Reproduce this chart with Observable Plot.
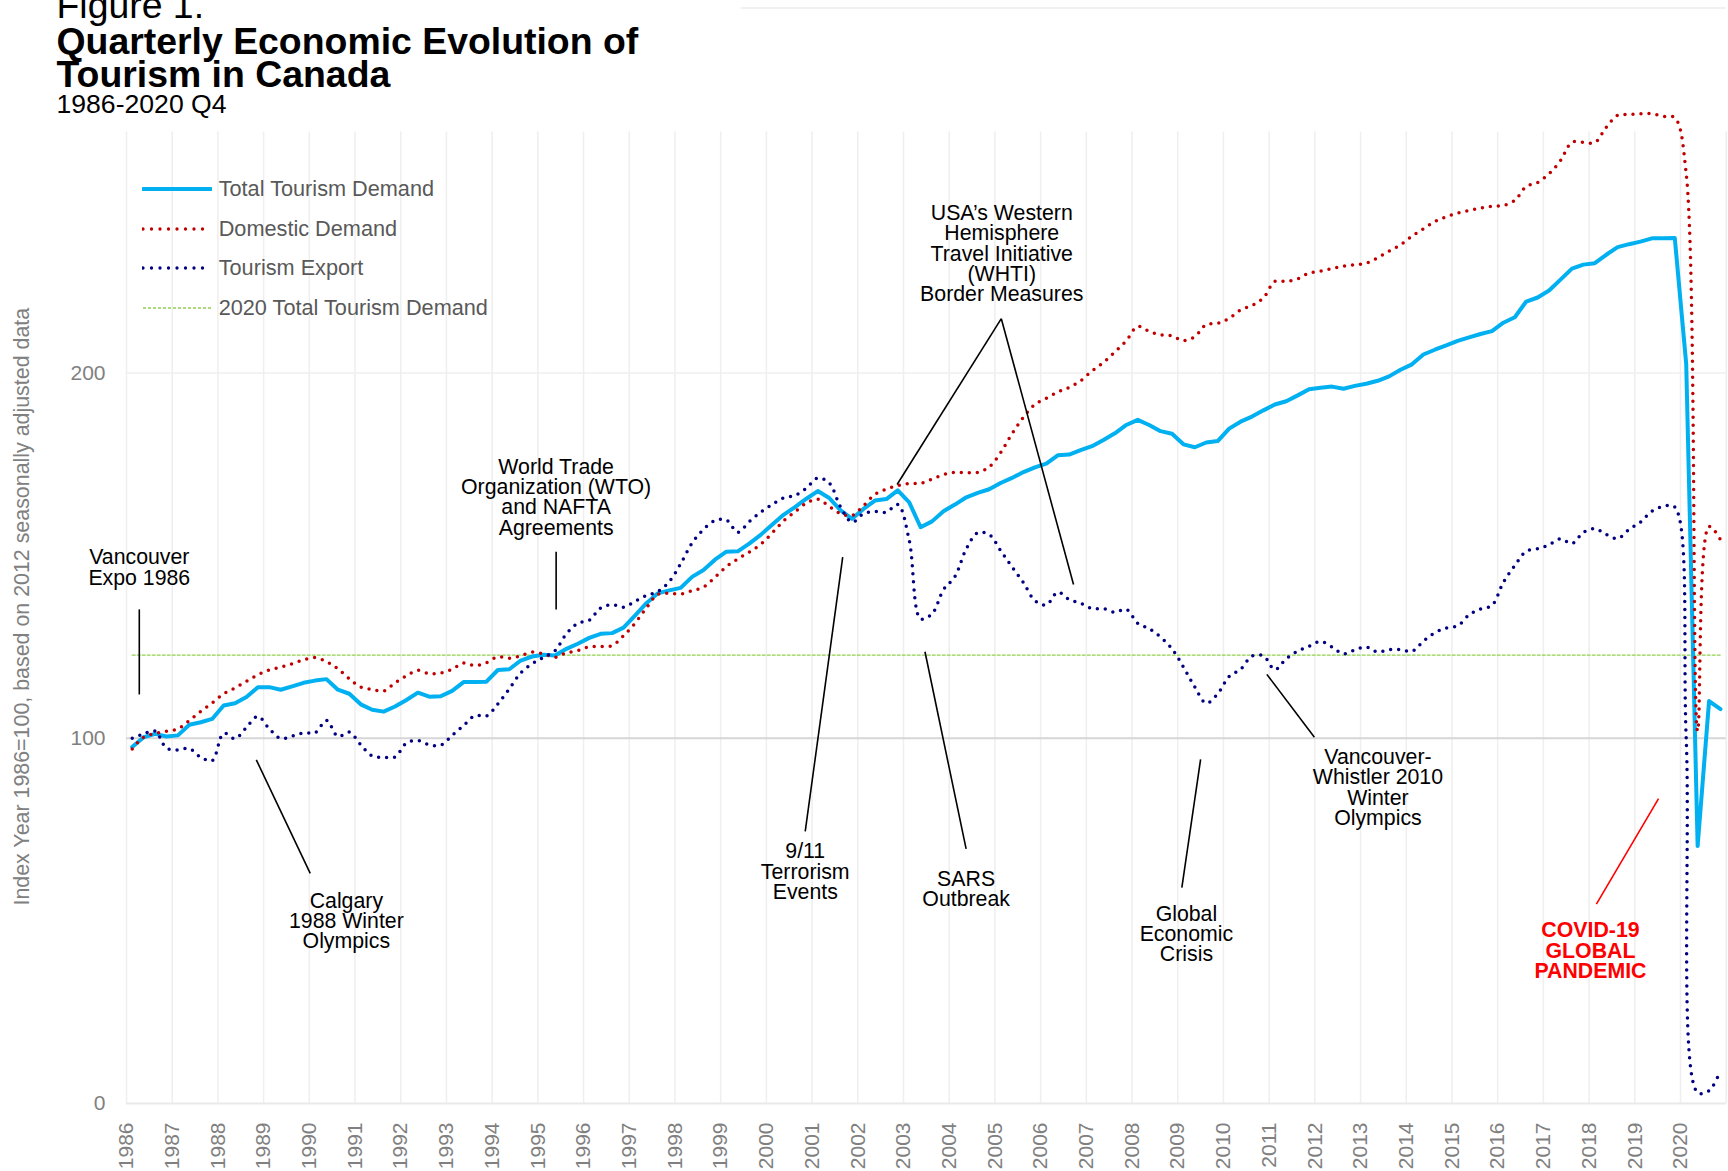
<!DOCTYPE html>
<html>
<head>
<meta charset="utf-8">
<script src="https://cdn.jsdelivr.net/npm/d3@7"></script>
<script src="https://cdn.jsdelivr.net/npm/@observablehq/plot@0.6"></script>
<style>
html, body { margin: 0; padding: 0; background: #fff; }
#wrap { position: relative; width: 1728px; height: 1171px; overflow: hidden; font-family: "Liberation Sans", Arial, sans-serif; }
#chart { position: absolute; left: 0; top: 0; }
.t { position: absolute; left: 56.5px; white-space: nowrap; line-height: 1; color: #000; }
.lg { position: absolute; left: 141.7px; height: 24px; display: flex; align-items: center; white-space: nowrap; }
.lg span { font-size: 21.7px; line-height: 1; color: #595959; margin-left: 7px; }
.lg svg { display: block; }
</style>
</head>
<body>
<div id="wrap">
  <div id="chart"></div>
  <div class="t" style="top:-12.6px;font-size:37.4px;">Figure 1.</div>
  <div class="t" style="top:23.4px;font-size:37.4px;font-weight:bold;">Quarterly Economic Evolution of</div>
  <div class="t" style="top:56.4px;font-size:37.4px;font-weight:bold;">Tourism in Canada</div>
  <div class="t" style="top:91px;font-size:26.6px;">1986-2020 Q4</div>
  <div id="legend"></div>
</div>
<script>
// ---------------- DATA ----------------
const startYear = 1986; // first quarter 1986 Q1, quarterly to 2020 Q4

const totalDemand = [
  97.6, 100.3, 101.2, 100.5,
  100.8, 103.7, 104.4, 105.3,
  109.0, 109.6, 111.3, 114.0,
  114.0, 113.3, 114.2, 115.2,
  115.8, 116.2, 113.3, 112.2,
  109.3, 107.8, 107.3, 108.7,
  110.5, 112.5, 111.4, 111.5,
  113.0, 115.4, 115.4, 115.5,
  118.7, 118.9, 121.3, 122.4,
  122.9, 122.7, 124.5, 125.9,
  127.5, 128.6, 128.8, 130.3,
  133.6, 137.0, 139.7, 140.5,
  141.2, 144.2, 146.1, 148.9,
  151.1, 151.2, 153.3, 155.7,
  158.5, 161.2, 163.3, 165.6,
  167.7, 165.8, 162.4, 160.1,
  162.8, 165.1, 165.5, 167.9,
  164.6, 157.8, 159.4, 162.2,
  164.0, 166.0, 167.2, 168.2,
  169.9, 171.3, 172.9, 174.2,
  175.2, 177.5, 177.7, 178.9,
  180.0, 181.7, 183.5, 185.8,
  187.2, 185.8, 184.1, 183.4,
  180.5, 179.7, 181.0, 181.4,
  184.8, 186.7, 188.1, 189.8,
  191.4, 192.3, 193.9, 195.6,
  196.0, 196.3, 195.7, 196.5,
  197.1, 197.9, 199.1, 200.9,
  202.4, 205.1, 206.4, 207.6,
  208.8, 209.8, 210.7, 211.5,
  213.8, 215.3, 219.6, 220.7,
  222.6, 225.6, 228.6, 229.7,
  230.1, 232.4, 234.5, 235.3,
  236.0, 236.9, 236.9, 237.0,
  202.5, 70.5, 110.2, 108.0
];

const domesticDemand = [
  97.1, 100.3, 101.3, 101.9,
  102.6, 104.9, 107.4, 109.7,
  112.2, 113.8, 115.6, 117.4,
  118.7, 119.5, 120.4, 121.5,
  122.1, 121.0, 119.0, 116.3,
  114.0, 113.4, 112.9, 115.2,
  117.1, 118.6, 117.7, 117.9,
  118.9, 120.6, 119.9, 120.7,
  122.3, 121.9, 122.6, 123.6,
  123.1, 122.2, 123.4, 124.0,
  125.1, 125.1, 125.4, 128.1,
  131.5, 135.7, 139.4, 139.7,
  139.5, 140.4, 141.4, 144.1,
  147.0, 149.1, 151.0, 153.1,
  156.2, 159.5, 162.0, 164.4,
  165.5, 163.5, 161.5, 161.0,
  163.7, 166.8, 168.2, 169.2,
  169.8, 169.8, 171.0, 172.2,
  172.8, 172.7, 172.8, 174.3,
  178.2, 183.4, 187.9, 191.4,
  193.1, 194.8, 196.1, 197.9,
  200.6, 202.9, 205.8, 208.9,
  212.8, 211.4, 210.5, 210.2,
  208.9, 210.0, 213.3, 213.6,
  215.0, 217.3, 218.5, 220.6,
  225.1, 225.1, 225.8, 227.4,
  227.9, 228.6, 229.3, 229.7,
  230.1, 231.6, 233.4, 235.1,
  237.5, 239.5, 241.5, 242.8,
  243.8, 244.5, 245.2, 245.7,
  245.9, 247.3, 251.1, 252.2,
  254.6, 258.2, 263.2, 263.2,
  263.1, 267.3, 270.6, 270.8,
  271.0, 271.0, 270.3, 269.9,
  254.6, 102.0, 158.0, 154.4
];

const tourismExport = [
  100.0, 101.2, 102.0, 97.3,
  96.8, 97.2, 94.8, 93.9,
  101.4, 99.9, 103.0, 106.0,
  102.6, 99.9, 100.6, 101.5,
  101.5, 104.9, 100.5, 101.7,
  98.2, 95.2, 94.8, 94.9,
  98.7, 99.4, 98.2, 98.1,
  100.8, 103.5, 106.2, 106.1,
  109.4, 113.5, 117.9, 120.4,
  122.2, 124.0, 128.6, 131.5,
  132.3, 135.7, 136.6, 135.9,
  137.5, 139.1, 140.2, 142.9,
  147.8, 153.5, 157.2, 159.6,
  159.8, 156.4, 159.3, 161.9,
  164.0, 165.8, 166.5, 168.5,
  171.3, 169.9, 163.3, 159.2,
  161.5, 162.1, 161.9, 164.0,
  154.2, 132.7, 134.1, 140.7,
  144.3, 151.9, 156.3, 155.8,
  151.4, 146.9, 142.6, 137.7,
  136.5, 140.0, 138.0, 137.0,
  135.5, 135.5, 134.5, 135.3,
  131.5, 130.0, 127.7, 124.5,
  119.5, 114.0, 109.6, 112.2,
  116.9, 118.9, 122.5, 122.6,
  118.8, 121.8, 123.9, 125.2,
  126.5, 125.0, 123.1, 124.2,
  125.0, 123.6, 124.3, 124.3,
  123.8, 126.6, 128.9, 130.2,
  130.8, 133.8, 135.4, 136.4,
  142.7, 147.3, 151.2, 151.9,
  153.0, 154.6, 153.3, 156.4,
  157.4, 155.8, 154.7, 157.2,
  159.2, 162.2, 163.5, 163.3,
  100.0, 3.0, 3.5, 9.0
];

const yearTicks = [1986, 1987, 1988, 1989, 1990, 1991, 1992, 1993, 1994, 1995,
  1996, 1997, 1998, 1999, 2000, 2001, 2002, 2003, 2004, 2005, 2006, 2007, 2008,
  2009, 2010, 2011, 2012, 2013, 2014, 2015, 2016, 2017, 2018, 2019, 2020];
const valueTicks = [0, 100, 200, 300];

const seriesNames = ["Total Tourism Demand", "Domestic Demand", "Tourism Export", "2020 Total Tourism Demand"];
const yTitle = "Index Year 1986=100, based on 2012 seasonally adjusted data";

// annotations (x in years, y in index units: first-line baseline)
const events = [
  {label: "Vancouver\nExpo 1986", x: 1986.28, y: 147.6},
  {label: "World Trade\nOrganization (WTO)\nand NAFTA\nAgreements", x: 1995.40, y: 172.4},
  {label: "Calgary\n1988 Winter\nOlympics", x: 1990.81, y: 53.6},
  {label: "9/11\nTerrorism\nEvents", x: 2000.85, y: 67.1},
  {label: "SARS\nOutbreak", x: 2004.37, y: 59.5},
  {label: "USA\u2019s Western\nHemisphere\nTravel Initiative\n(WHTI)\nBorder Measures", x: 2005.15, y: 241.9},
  {label: "Global\nEconomic\nCrisis", x: 2009.19, y: 50.0},
  {label: "Vancouver-\nWhistler 2010\nWinter\nOlympics", x: 2013.38, y: 92.9}
];
const covidEvent = [{label: "COVID-19\nGLOBAL\nPANDEMIC", x: 2018.03, y: 45.5}];

const leaders = [
  {x1: 1986.28, y1: 135.3, x2: 1986.28, y2: 112.0},
  {x1: 1995.40, y1: 151.1, x2: 1995.40, y2: 135.3},
  {x1: 1988.84, y1: 94.1, x2: 1990.02, y2: 63.0},
  {x1: 2001.67, y1: 149.6, x2: 2000.85, y2: 74.5},
  {x1: 2003.47, y1: 123.7, x2: 2004.37, y2: 69.7},
  {x1: 2005.14, y1: 214.9, x2: 2002.86, y2: 169.5},
  {x1: 2005.14, y1: 214.9, x2: 2006.72, y2: 142.1},
  {x1: 2009.50, y1: 94.2, x2: 2009.09, y2: 59.1},
  {x1: 2010.95, y1: 117.5, x2: 2011.99, y2: 100.3}
];
const covidLeader = [{x1: 2019.52, y1: 83.5, x2: 2018.16, y2: 54.6}];

// ---------------- BUILD ----------------
const rows = totalDemand.map((v, i) => ({
  t: startYear + i / 4 + 0.125,
  total: v,
  domestic: domesticDemand[i],
  exp: tourismExport[i]
}));
const total2020 = d3.mean(totalDemand.slice(-4));
const gridYears = [...yearTicks, yearTicks[yearTicks.length - 1] + 1];
const gridTop = 266;
const topRuleStart = 1999.45; // part of the 300 gridline not hidden by the title box

const colors = {total: "#00B0F0", domestic: "#C00000", exp: "#000080", ref: "#92D050"};
const font = '"Liberation Sans", Arial, sans-serif';
const annLH = 0.95, annFS = 21.3;

const chart = Plot.plot({
  width: 1728,
  height: 1171,
  marginLeft: 126,
  marginRight: 2.3,
  marginTop: 7.4,
  marginBottom: 68,
  x: {domain: [1986, 2021]},
  y: {domain: [0, 300]},
  style: {fontFamily: font, fontSize: "21px", background: "transparent", overflow: "visible"},
  marks: [
    Plot.ruleX(gridYears, {y1: 0, y2: gridTop, stroke: "#efefef", strokeWidth: 1.5}),
    Plot.ruleY([valueTicks[3]], {x1: topRuleStart, x2: 2021, stroke: "#ececec", strokeWidth: 1.5}),
    Plot.ruleY([valueTicks[2]], {stroke: "#efefef", strokeWidth: 1.5}),
    Plot.ruleY([valueTicks[0]], {stroke: "#e9e9e9", strokeWidth: 2}),
    Plot.ruleY([valueTicks[1]], {stroke: "#d6d6d6", strokeWidth: 2}),
    Plot.axisX({ticks: yearTicks, tickFormat: d => String(d), tickRotate: -90, tickSize: 0, tickPadding: 19, fontSize: 21, color: "#808080", label: null}),
    Plot.axisY({ticks: valueTicks.slice(0, 3), tickSize: 0, tickPadding: 21, fontSize: 21, color: "#808080", label: null}),
    Plot.text([yTitle], {frameAnchor: "left", textAnchor: "middle", rotate: -90, dx: -104, dy: 51, fill: "#808080", fontSize: 21.4}),
    Plot.line(rows, {x: "t", y: rows.map(() => total2020), stroke: colors.ref, strokeWidth: 1.3, strokeDasharray: "3 2"}),
    Plot.line(rows, {x: "t", y: "total", stroke: colors.total, strokeWidth: 4, strokeLinejoin: "round"}),
    Plot.line(rows, {x: "t", y: "domestic", stroke: colors.domestic, strokeWidth: 3.5, strokeDasharray: "0 8", strokeLinecap: "round", curve: "catmull-rom"}),
    Plot.line(rows, {x: "t", y: "exp", stroke: colors.exp, strokeWidth: 3.5, strokeDasharray: "0 8", strokeLinecap: "round", curve: "catmull-rom"}),
    Plot.link(leaders, {x1: "x1", y1: "y1", x2: "x2", y2: "y2", stroke: "#000", strokeWidth: 1.6}),
    Plot.link(covidLeader, {x1: "x1", y1: "y1", x2: "x2", y2: "y2", stroke: "#FF0000", strokeWidth: 1.6}),
    Plot.text(events, {x: "x", y: "y", text: "label", textAnchor: "middle", lineAnchor: "top", lineHeight: annLH, dy: -0.71 * annLH * annFS, fontSize: annFS, fill: "#000"}),
    Plot.text(covidEvent, {x: "x", y: "y", text: "label", textAnchor: "middle", lineAnchor: "top", lineHeight: annLH, dy: -0.71 * annLH * annFS, fontSize: annFS, fontWeight: "bold", fill: "#FF0000"})
  ]
});
document.getElementById("chart").appendChild(chart);

// ---------------- LEGEND ----------------
const legendRows = [
  {name: seriesNames[0], stroke: colors.total, width: 4, dash: null, cap: "round", top: 189.3},
  {name: seriesNames[1], stroke: colors.domestic, width: 3.3, dash: "0 8.5", cap: "round", top: 229.3},
  {name: seriesNames[2], stroke: colors.exp, width: 3.3, dash: "0 8.5", cap: "round", top: 268.3},
  {name: seriesNames[3], stroke: colors.ref, width: 1.3, dash: "3 2", cap: "butt", top: 308.3}
];
const legend = document.getElementById("legend");
legendRows.forEach(r => {
  const div = document.createElement("div");
  div.className = "lg";
  div.style.top = (r.top - 12) + "px";
  div.innerHTML = `<svg width="70" height="10"><line x1="1" y1="5" x2="69" y2="5" stroke="${r.stroke}" stroke-width="${r.width}" stroke-linecap="${r.cap}" ${r.dash ? `stroke-dasharray="${r.dash}"` : ""}/></svg><span>${r.name}</span>`;
  legend.appendChild(div);
});
</script>
</body>
</html>
